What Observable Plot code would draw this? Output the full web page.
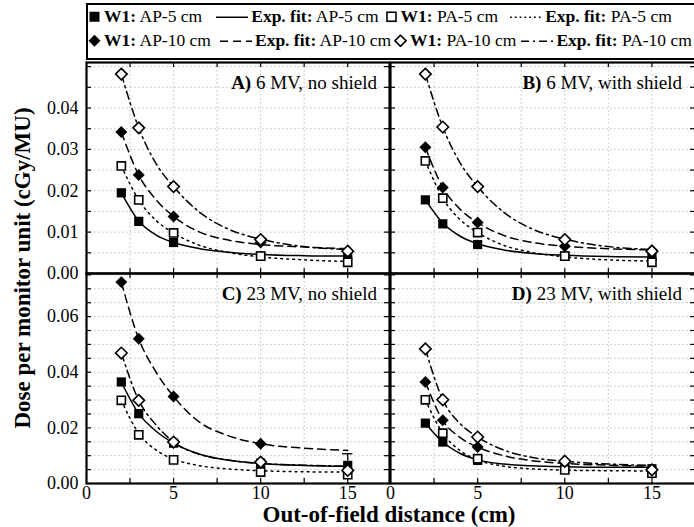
<!DOCTYPE html>
<html><head><meta charset="utf-8">
<script src="https://cdn.jsdelivr.net/npm/d3@7"></script>
<script src="https://cdn.jsdelivr.net/npm/@observablehq/plot@0.6"></script>
<style>
body{margin:0;background:#fff;}
#chart{position:relative;width:694px;height:527px;overflow:hidden;font-family:'Liberation Serif','DejaVu Serif',serif;color:#000;background:#fff;}
.abs{position:absolute;white-space:nowrap;line-height:1;font-family:'Liberation Serif','DejaVu Serif',serif;}
.legrow{display:flex;align-items:center;font-size:17.5px;transform:translateY(-50%);}
.legrow > *{flex:none;}
.plab{font-size:19px;transform:translateY(-50%);text-align:right;}
</style></head><body><div id="chart"></div>
<script>
// ---------- data ----------
const distances = [2, 3, 5, 10, 15];                 // cm
const fitDistances = [2, 3, 4, 5, 6.5, 8, 10, 12.5, 15];
const panelTags = ["A)", "B)", "C)", "D)"];
const panelNames = ["6 MV, no shield", "6 MV, with shield", "23 MV, no shield", "23 MV, with shield"];
const xTickLabels = [0, 5, 10, 15];
const xMinorTicks = [2.5, 5, 7.5, 10, 12.5, 15];
const yTickLabelsTop = [0, 0.01, 0.02, 0.03, 0.04];
const yTickLabelsBottom = [0, 0.02, 0.04, 0.06];
const yMinorTop = [0.005, 0.01, 0.015, 0.02, 0.025, 0.03, 0.035, 0.04, 0.045, 0.05];
const yMinorBottom = [0.005, 0.01, 0.015, 0.02, 0.025, 0.03, 0.035, 0.04, 0.045, 0.05, 0.055, 0.06, 0.065, 0.07, 0.075];

// measured W1 values, rows = panels A, B, C, D
const w1AP5 = [
  [0.0195, 0.0126, 0.0075, 0.0042, 0.0045],
  [0.0178, 0.0120, 0.0070, 0.0042, 0.0040],
  [0.0365, 0.0251, 0.0145, 0.0073, 0.0065],
  [0.0217, 0.0149, 0.0083, 0.0059, 0.0053]];
const w1PA5 = [
  [0.0260, 0.0178, 0.0098, 0.0042, 0.0027],
  [0.0272, 0.0182, 0.0099, 0.0042, 0.0027],
  [0.0299, 0.0175, 0.0085, 0.0041, 0.0032],
  [0.0301, 0.0181, 0.0089, 0.0049, 0.0037]];
const w1AP10 = [
  [0.0342, 0.0238, 0.0138, 0.0075, 0.0054],
  [0.0305, 0.0208, 0.0123, 0.0066, 0.0056],
  [0.0724, 0.0520, 0.0313, 0.0143, null],
  [0.0365, 0.0227, 0.0131, 0.0077, 0.0049]];
const w1PA10 = [
  [0.0482, 0.0352, 0.0210, 0.0082, 0.0054],
  [0.0482, 0.0354, 0.0210, 0.0082, 0.0054],
  [0.0469, 0.0299, 0.0149, 0.0077, 0.0047],
  [0.0484, 0.0301, 0.0167, 0.0080, 0.0049]];

// exponential fit curves, read at fitDistances
const fitAP5 = [
  [0.0195, 0.0127, 0.0093, 0.0075, 0.0060, 0.0052, 0.0046, 0.0043, 0.0042],
  [0.0178, 0.0122, 0.0090, 0.0072, 0.0057, 0.0049, 0.0044, 0.0041, 0.0040],
  [0.0365, 0.0251, 0.0188, 0.0145, 0.0105, 0.0085, 0.0072, 0.0065, 0.0062],
  [0.0217, 0.0149, 0.0108, 0.0085, 0.0070, 0.0064, 0.0060, 0.0058, 0.0058]];
const fitPA5 = [
  [0.0260, 0.0178, 0.0128, 0.0098, 0.0068, 0.0052, 0.0040, 0.0033, 0.0029],
  [0.0272, 0.0182, 0.0130, 0.0099, 0.0068, 0.0052, 0.0040, 0.0033, 0.0030],
  [0.0299, 0.0180, 0.0120, 0.0088, 0.0064, 0.0053, 0.0046, 0.0042, 0.0041],
  [0.0301, 0.0181, 0.0118, 0.0085, 0.0062, 0.0053, 0.0048, 0.0046, 0.0045]];
const fitAP10 = [
  [0.0342, 0.0238, 0.0178, 0.0138, 0.0100, 0.0082, 0.0070, 0.0064, 0.0060],
  [0.0305, 0.0208, 0.0155, 0.0123, 0.0092, 0.0076, 0.0066, 0.0060, 0.0057],
  [0.0724, 0.0520, 0.0400, 0.0313, 0.0220, 0.0175, 0.0143, 0.0127, 0.0119],
  [0.0365, 0.0227, 0.0165, 0.0131, 0.0100, 0.0083, 0.0072, 0.0066, 0.0062]];
const fitPA10 = [
  [0.0482, 0.0352, 0.0265, 0.0210, 0.0148, 0.0110, 0.0083, 0.0065, 0.0058],
  [0.0482, 0.0354, 0.0267, 0.0210, 0.0148, 0.0110, 0.0083, 0.0065, 0.0058],
  [0.0469, 0.0299, 0.0210, 0.0149, 0.0105, 0.0085, 0.0072, 0.0066, 0.0062],
  [0.0484, 0.0301, 0.0215, 0.0167, 0.0120, 0.0095, 0.0080, 0.0070, 0.0065]];

// error bar visible in panel C at 15 cm
const errorBarsC = [{x: 15, lo: 0.0047, hi: 0.0107}];

// legend entries
const legendRow1 = [
  {sym: "fsq", text: ["W1:", "AP-5 cm"]},
  {line: null, text: ["Exp. fit:", "AP-5 cm"]},
  {sym: "osq", text: ["W1:", "PA-5 cm"]},
  {line: "1.8,3", text: ["Exp. fit:", "PA-5 cm"]}];
const legendRow2 = [
  {sym: "fdi", text: ["W1:", "AP-10 cm"]},
  {line: "8,5", text: ["Exp. fit:", "AP-10 cm"]},
  {sym: "odi", text: ["W1:", "PA-10 cm"]},
  {line: "8,4,2,4", text: ["Exp. fit:", "PA-10 cm"]}];

// ---------- layout ----------
const yDomainTop = [0, 0.051];
const yDomainBottom = [0, 0.0755];
const chart = document.getElementById("chart");
const FONT = "'Liberation Serif','DejaVu Serif',serif";
const fitDash = {AP5: null, PA5: "1.8,4.2", AP10: "8,5", PA10: "8,4,2,4"};

function pts(xs, ys) { return xs.map((x, i) => ({x, y: ys[i]})); }

function panel(p) {
  const row = p < 2 ? 0 : 1, col = p % 2;
  const box = {left: col ? 390 : 86, top: row ? 273 : 62, w: col ? 305 : 303, h: row ? 210 : 211};
  const xDomain = [0, col ? 17.5 : 17.4];
  const mL = col ? 1 : 60, mR = 2, mT = 1, mB = row ? 30 : 1;
  const yMinor = row ? yMinorBottom : yMinorTop;
  const marks = [
    Plot.ruleX(xMinorTicks, {x: d => d, stroke: "#b0b0b0", strokeWidth: 0.8, strokeDasharray: "1.5,2.5"}),
    Plot.ruleY(yMinor, {y: d => d, stroke: "#b0b0b0", strokeWidth: 0.8, strokeDasharray: "1.5,2.5"})
  ];
  if (p === 2) {
    marks.push(Plot.ruleX(errorBarsC, {x: "x", y1: "lo", y2: "hi", stroke: "black", strokeWidth: 1.3}));
    marks.push(Plot.ruleY(errorBarsC, {y: "hi", x1: d => d.x - 0.3, x2: d => d.x + 0.3, stroke: "black", strokeWidth: 1.3}));
  }
  const fits = [["PA10", fitPA10], ["AP10", fitAP10], ["PA5", fitPA5], ["AP5", fitAP5]];
  for (const [k, arr] of fits) {
    marks.push(Plot.line(pts(fitDistances, arr[p]), {x: "x", y: "y", curve: "monotone-x", stroke: "black",
      strokeWidth: 1.5, strokeDasharray: fitDash[k]}));
  }
  marks.push(
    Plot.dot(pts(distances, w1AP5[p]), {x: "x", y: "y", symbol: "square", r: 5.2, fill: "black"}),
    Plot.dot(pts(distances, w1AP10[p]), {x: "x", y: "y", symbol: "diamond2", r: 5.4, fill: "black"}),
    Plot.dot(pts(distances, w1PA5[p]), {x: "x", y: "y", symbol: "square", r: 4.6, fill: "white", stroke: "black", strokeWidth: 1.6}),
    Plot.dot(pts(distances, w1PA10[p]), {x: "x", y: "y", symbol: "diamond2", r: 5.2, fill: "white", stroke: "black", strokeWidth: 1.6}),
    Plot.tickX(xMinorTicks, {x: d => d, insetBottom: box.h - 5, stroke: "black", strokeWidth: 1.2}),
    Plot.tickX(xMinorTicks, {x: d => d, insetTop: box.h - 5, stroke: "black", strokeWidth: 1.2}),
    Plot.tickY(yMinor, {y: d => d, insetRight: box.w - 5, stroke: "black", strokeWidth: 1.2}),
    Plot.tickY(yMinor, {y: d => d, insetLeft: box.w - 5, stroke: "black", strokeWidth: 1.2}),
    Plot.frame({stroke: "black", strokeWidth: 2.2})
  );
  if (col === 0) {
    marks.push(Plot.axisY(row ? yTickLabelsBottom : yTickLabelsTop,
      {tickSize: 0, tickPadding: 8, tickFormat: d3.format(".2f"), fontSize: 18, fontFamily: FONT, label: null}));
  }
  if (row === 1) {
    marks.push(Plot.axisX(xTickLabels, {tickSize: 0, tickPadding: 3, fontSize: 18, fontFamily: FONT, label: null}));
  }
  const svg = Plot.plot({
    width: box.w + mL + mR, height: box.h + mT + mB,
    marginLeft: mL, marginRight: mR, marginTop: mT, marginBottom: mB,
    x: {domain: xDomain, axis: null},
    y: {domain: row ? yDomainBottom : yDomainTop, axis: null},
    style: {fontFamily: FONT, fontSize: "18px", background: "none", overflow: "visible", color: "black"},
    marks
  });
  svg.style.position = "absolute";
  svg.style.left = (box.left - mL) + "px";
  svg.style.top = (box.top - mT) + "px";
  svg.style.maxWidth = "none";
  chart.appendChild(svg);

  const lab = document.createElement("div");
  lab.className = "abs plab";
  lab.style.right = (694 - (box.left + (col ? 292 : 291))) + "px";
  lab.style.top = (box.top + 20) + "px";
  lab.innerHTML = `<b>${panelTags[p]}</b> ${panelNames[p]}`;
  chart.appendChild(lab);
}
[0, 1, 2, 3].forEach(panel);

// ---------- legend ----------
const legendBox = document.createElement("div");
legendBox.className = "abs";
Object.assign(legendBox.style, {left: "86px", top: "3px", width: "640px", height: "57px", border: "2px solid black", boxSizing: "border-box", background: "white"});
chart.insertBefore(legendBox, chart.firstChild);

function symSVG(kind) {
  const s = {
    fsq: '<rect x="1.5" y="1.5" width="10" height="10" fill="black"/>',
    osq: '<rect x="2" y="2" width="9" height="9" fill="white" stroke="black" stroke-width="1.6"/>',
    fdi: '<path d="M6.5,0.5L12.5,6.5L6.5,12.5L0.5,6.5Z" fill="black"/>',
    odi: '<path d="M6.5,1L12,6.5L6.5,12L1,6.5Z" fill="white" stroke="black" stroke-width="1.6"/>'
  }[kind];
  return `<svg width="13" height="13" style="display:block">${s}</svg>`;
}
function lineSVG(w, dash) {
  return `<svg width="${w}" height="6" style="display:block"><line x1="0" y1="3" x2="${w}" y2="3" stroke="black" stroke-width="1.6" ${dash ? `stroke-dasharray="${dash}"` : ""}/></svg>`;
}
function legendRowEl(items, top, gaps) {
  const r = document.createElement("div");
  r.className = "abs legrow";
  r.style.left = "88px";
  r.style.top = top + "px";
  items.forEach((it, i) => {
    const g = document.createElement("span");
    g.innerHTML = it.sym ? symSVG(it.sym) : lineSVG(32, it.line);
    g.style.marginRight = "3px";
    r.appendChild(g);
    const t = document.createElement("span");
    t.innerHTML = `<b>${it.text[0]}</b> ${it.text[1]}`;
    t.style.marginRight = gaps[i] + "px";
    r.appendChild(t);
  });
  chart.appendChild(r);
}
legendRowEl(legendRow1, 17, [14, 6, 12, 0]);
legendRowEl(legendRow2, 41, [9, 3, 5, 0]);

// ---------- axis titles ----------
const yTitle = document.createElement("div");
yTitle.className = "abs";
Object.assign(yTitle.style, {left: "22px", top: "268px", fontSize: "23px", fontWeight: "bold", transform: "translate(-50%,-50%) rotate(-90deg)"});
yTitle.textContent = "Dose per monitor unit (cGy/MU)";
chart.appendChild(yTitle);

const xTitle = document.createElement("div");
xTitle.className = "abs";
Object.assign(xTitle.style, {left: "389px", top: "514px", fontSize: "23px", fontWeight: "bold", transform: "translate(-50%,-50%)"});
xTitle.textContent = "Out-of-field distance (cm)";
chart.appendChild(xTitle);
</script></body></html>
